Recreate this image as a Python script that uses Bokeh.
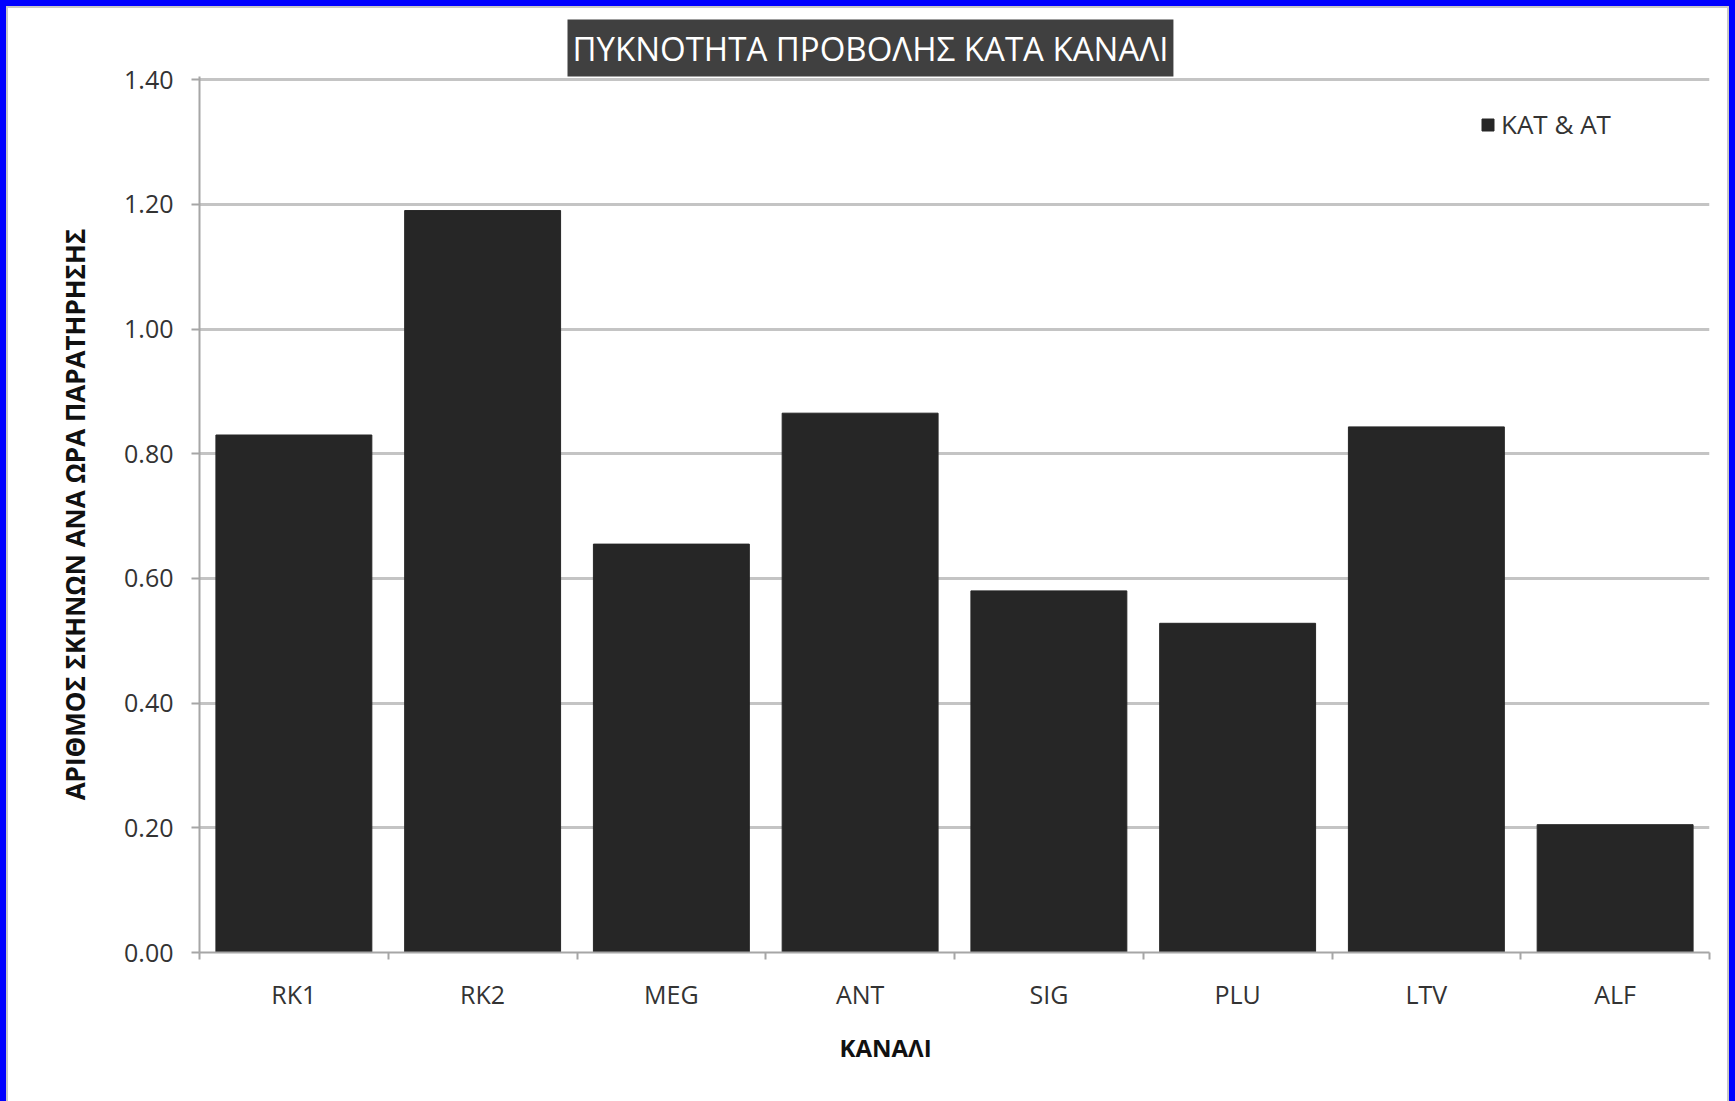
from bokeh.plotting import figure
from bokeh.models import (Range1d, FixedTicker, NumeralTickFormatter, Title,
                          Legend, LegendItem, ColumnDataSource)
from bokeh.embed import file_html
from bokeh.resources import INLINE

# ---- data ----
channels = ["RK1", "RK2", "MEG", "ANT", "SIG", "PLU", "LTV", "ALF"]
density = [0.83, 1.19, 0.655, 0.865, 0.58, 0.528, 0.843, 0.205]
series_name = "ΚΑΤ & ΑΤ"
y_ticks = [0.0, 0.2, 0.4, 0.6, 0.8, 1.0, 1.2, 1.4]
title_text = "ΠΥΚΝΟΤΗΤΑ ΠΡΟΒΟΛΗΣ ΚΑΤΑ ΚΑΝΑΛΙ"
x_title = "ΚΑΝΑΛΙ"
y_title = "ΑΡΙΘΜΟΣ ΣΚΗΝΩΝ ΑΝΑ ΩΡΑ ΠΑΡΑΤΗΡΗΣΗΣ"

centers = [i + 0.5 for i in range(len(channels))]
bounds = [float(i) for i in range(len(channels) + 1)]

W, H = 1735, 1101
p = figure(width=W, height=H, output_backend="svg", toolbar_location=None,
           x_range=Range1d(0, len(channels)), y_range=Range1d(0, 1.405),
           min_border_left=199, min_border_right=26, min_border_top=76,
           min_border_bottom=149)
p.outline_line_color = None
p.background_fill_color = "white"
p.border_fill_color = "white"
p.border_fill_alpha = 0.0
p.styles = {
    "position": "absolute", "left": "0px", "top": "0px",
    "background-color": "white",
    "box-shadow": ("inset 6px 6px 0 0 #0000ff, inset -6px 0 0 0 #0000ff, "
                   "inset 8px 8px 0 0 #c8c8c8, inset -8px 0 0 0 #c8c8c8"),
}

src = ColumnDataSource(dict(x=centers, top=density, name=channels))
bars = p.vbar(x="x", top="top", width=0.826, bottom=0, source=src,
              fill_color="#262626", line_color="#262626")

FONT = "Open Sans"

# title box above the plot
p.add_layout(Title(text=title_text, align="left", offset=368, standoff=0,
                   text_font=FONT, text_font_size="33px",
                   text_font_style="normal", text_color="white",
                   background_fill_color="#404040", padding=(5, 6)), "above")

# x axis: labels at centres, ticks at category boundaries
xa = p.xaxis[0]
xa.ticker = FixedTicker(ticks=centers, minor_ticks=bounds)
xa.major_label_overrides = {c: n for c, n in zip(centers, channels)}
xa.major_tick_out = 0
xa.major_tick_in = 0
xa.minor_tick_out = 7
xa.minor_tick_in = 0
xa.minor_tick_line_color = "#a6a6a6"
xa.minor_tick_line_width = 2
xa.axis_line_color = "#a6a6a6"
xa.axis_line_width = 2
xa.major_label_text_font = FONT
xa.major_label_text_font_size = "25px"
xa.major_label_text_color = "#333333"
xa.major_label_standoff = 17

# x-axis title (left of the frame centre, as in the original)
p.add_layout(Title(text=x_title, align="left", offset=640, standoff=30,
                   text_font=FONT, text_font_size="24px",
                   text_font_style="bold", text_color="#111111"), "below")

ya = p.yaxis[0]
ya.ticker = FixedTicker(ticks=y_ticks, minor_ticks=[])
ya.formatter = NumeralTickFormatter(format="0.00")
ya.major_tick_out = 8
ya.major_tick_in = 0
ya.major_tick_line_color = "#a6a6a6"
ya.major_tick_line_width = 2
ya.minor_tick_out = 0
ya.axis_line_color = "#a6a6a6"
ya.axis_line_width = 2
ya.major_label_text_font = FONT
ya.major_label_text_font_size = "25px"
ya.major_label_text_color = "#333333"
ya.major_label_standoff = 18
ya.axis_label = y_title
ya.axis_label_text_font = FONT
ya.axis_label_text_font_size = "26px"
ya.axis_label_text_font_style = "bold"
ya.axis_label_text_color = "#111111"
ya.axis_label_standoff = 28

p.xgrid.grid_line_color = None
p.ygrid.ticker = FixedTicker(ticks=y_ticks)
p.ygrid.grid_line_color = "#c4c4c4"
p.ygrid.grid_line_width = 3

legend = Legend(items=[LegendItem(label=series_name, renderers=[bars])],
                location=(1281, 810), orientation="vertical",
                glyph_width=15, glyph_height=15, label_standoff=6,
                label_text_font=FONT, label_text_font_size="26px",
                label_text_color="#333333", border_line_color=None,
                background_fill_alpha=0, padding=0, margin=0, spacing=0)
p.add_layout(legend, "center")

open("out.html", "w").write(file_html(p, INLINE))
